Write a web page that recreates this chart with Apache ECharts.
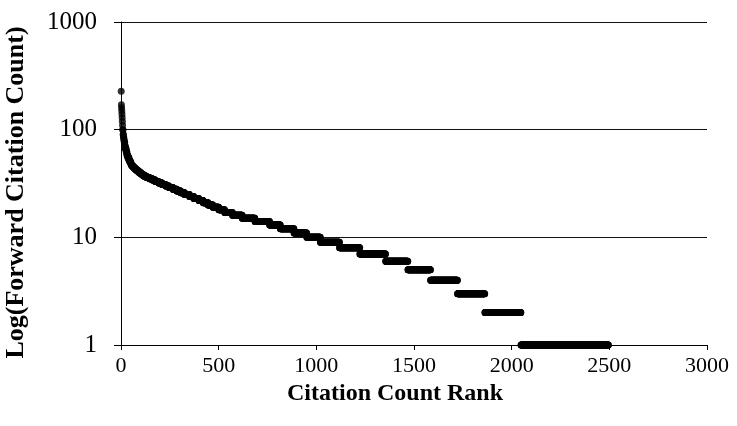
<!DOCTYPE html>
<html>
<head>
<meta charset="utf-8">
<script src="https://cdn.jsdelivr.net/npm/echarts@6/dist/echarts.min.js"></script>
<style>
  html, body { margin: 0; padding: 0; background: #fff; }
  #chart { width: 737px; height: 426px; }
</style>
</head>
<body>
<div id="chart"></div>
<script>
// citation count of each step, and the last rank that has that count
var citeCounts = [227, 170, 160, 150, 140, 130, 120, 110, 100, 90, 85, 80, 76, 70, 66, 62, 58, 55, 52, 50,
	48, 47, 46, 45, 44, 43, 42, 41, 40, 39, 38, 37, 36, 35, 34, 33, 32, 31, 30, 29,
	28, 27, 26, 25, 24, 23, 22, 21, 20, 19, 18, 17, 16, 15, 14, 13, 12, 11, 10, 9,
	8, 7, 6, 5, 4, 3, 2, 1];
var lastRank = [1, 2, 3, 4, 5, 6, 7, 8, 10, 12, 14, 16, 19, 22, 26, 30, 34, 40, 45, 50,
	52, 56, 61, 66, 72, 78, 85, 92, 100, 108, 118, 130, 145, 160, 175, 192, 210, 228, 245, 265,
	285, 305, 325, 350, 372, 398, 420, 445, 470, 500, 530, 570, 620, 685, 760, 815, 885, 950, 1020, 1118,
	1222, 1354, 1468, 1584, 1722, 1862, 2047, 2495];
var xTicks = [0, 3000, 500];
var yTicks = [1, 1000];

// every rank gets the count of the step it falls in
var points = [];
var start = 1;
for (var i = 0; i < citeCounts.length; i++) {
	for (var r = start; r <= lastRank[i]; r++) {
		points.push([r, citeCounts[i]]);
	}
	start = lastRank[i] + 1;
}

var chart = echarts.init(document.getElementById('chart'));
var serif = 'Liberation Serif';
var plain = function (v) { return String(v); };

var option = {
	animation: false,
	backgroundColor: '#fff',
	grid: { left: 121, right: 30, top: 22, bottom: 81, outerBoundsMode: 'none', containLabel: false },
	xAxis: {
		type: 'value',
		min: xTicks[0],
		max: xTicks[1],
		interval: xTicks[2],
		name: 'Citation Count Rank',
		nameLocation: 'middle',
		nameGap: 36,
		nameTextStyle: { fontFamily: serif, fontWeight: 'bold', fontSize: 24, color: '#000', padding: [0, 38, 0, 0] },
		axisLine: { lineStyle: { color: '#000', width: 1 } },
		axisTick: { show: true, length: 5, lineStyle: { color: '#000' } },
		axisLabel: { fontFamily: serif, fontSize: 22, color: '#000', margin: 10, formatter: plain },
		splitLine: { show: false }
	},
	yAxis: {
		type: 'log',
		logBase: 10,
		min: yTicks[0],
		max: yTicks[1],
		name: 'Log(Forward Citation Count)',
		nameLocation: 'middle',
		nameGap: 92,
		nameTextStyle: { fontFamily: serif, fontWeight: 'bold', fontSize: 26, color: '#000', padding: [0, 18, 0, 0] },
		axisLine: { show: true, lineStyle: { color: '#000', width: 1 } },
		axisTick: { show: true, length: 7, lineStyle: { color: '#000' } },
		axisLabel: { fontFamily: serif, fontSize: 25, color: '#000', margin: 24, formatter: plain },
		splitLine: { show: true, lineStyle: { color: '#111', width: 1 } },
		minorTick: { show: false }
	},
	series: [{
		type: 'scatter',
		data: points,
		symbol: 'circle',
		symbolSize: 7,
		itemStyle: { color: '#000' },
		silent: true
	}]
};

chart.setOption(option);
</script>
</body>
</html>
